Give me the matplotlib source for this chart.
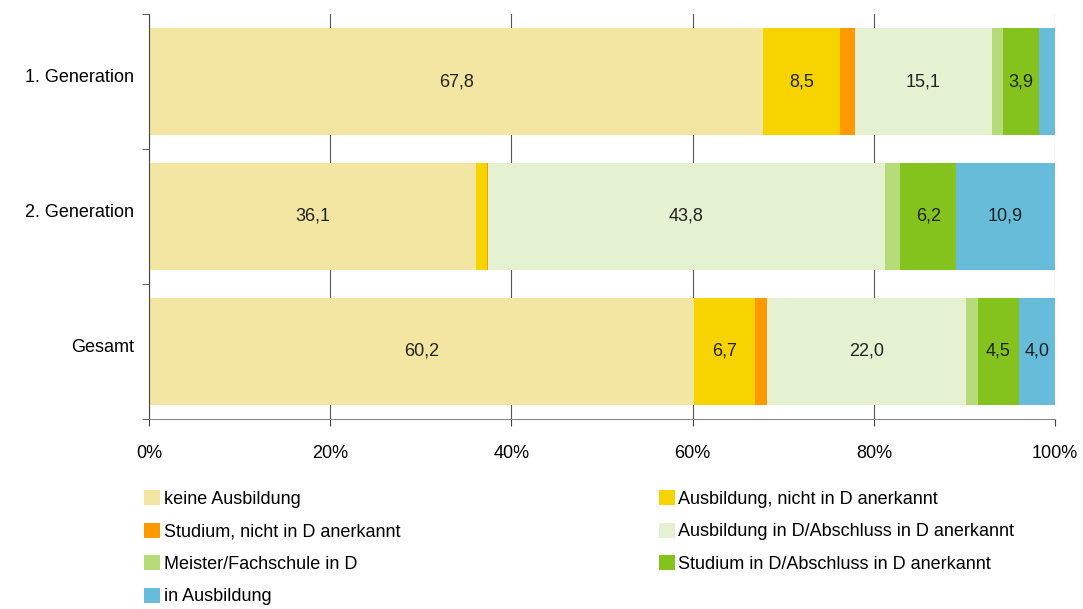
import numpy as np
import matplotlib.pyplot as plt
import matplotlib.transforms as mtransforms
from matplotlib.patches import Patch

plt.rcParams['font.family'] = ['Liberation Sans', 'DejaVu Sans']

groups = ["1. Generation", "2. Generation", "Gesamt"]
categories = ["keine Ausbildung",
              "Ausbildung, nicht in D anerkannt",
              "Studium, nicht in D anerkannt",
              "Ausbildung in D/Abschluss in D anerkannt",
              "Meister/Fachschule in D",
              "Studium in D/Abschluss in D anerkannt",
              "in Ausbildung"]
colors = ["#F3E6A3", "#F7D300", "#FF9900", "#E5F2D2", "#B5DC78", "#84C31D", "#66BCD9"]

# values per category, one entry per group
values = {
    "keine Ausbildung": [67.8, 36.1, 60.2],
    "Ausbildung, nicht in D anerkannt": [8.5, 1.2, 6.7],
    "Studium, nicht in D anerkannt": [1.6, 0.1, 1.3],
    "Ausbildung in D/Abschluss in D anerkannt": [15.1, 43.8, 22.0],
    "Meister/Fachschule in D": [1.3, 1.7, 1.3],
    "Studium in D/Abschluss in D anerkannt": [3.9, 6.2, 4.5],
    "in Ausbildung": [1.8, 10.9, 4.0],
}
min_label = 3.5

fig = plt.figure(figsize=(10.83, 6.09), dpi=100)
ax = fig.add_axes([0.1376, 0.312, 0.8366, 0.665])

y = np.arange(len(groups))
left = np.zeros(len(groups))
for cat, col in zip(categories, colors):
    vals = np.array(values[cat])
    ax.barh(y, vals, left=left, height=0.79, color=col, zorder=2)
    for yi, v, l in zip(y, vals, left):
        if v >= min_label:
            ax.text(l + v / 2, yi, f"{v:.1f}".replace(".", ","), ha="center", va="center",
                    fontsize=13, color="#222222", zorder=3)
    left += vals

ax.set_xlim(0, 100)
ax.set_ylim(2.5, -0.5)
ax.set_xticks(np.arange(0, 101, 20))
ax.set_xticklabels([f"{t}%" for t in range(0, 101, 20)], fontsize=13)
ax.set_yticks(y)
ax.set_yticklabels(groups, fontsize=13)
ax.set_yticks([-0.5, 0.5, 1.5, 2.5], minor=True)
ax.tick_params(axis="y", which="major", length=0, pad=15)
ax.tick_params(axis="y", which="minor", length=5, direction="out", color="#444444")
ax.tick_params(axis="x", length=5, direction="out", color="#444444", pad=14)
# labels sit a little above the bar centres
shift = mtransforms.ScaledTranslation(0.06, 0.06, fig.dpi_scale_trans)
for lab in ax.get_yticklabels():
    lab.set_transform(lab.get_transform() + shift)
ax.xaxis.grid(True, color="#555555", linewidth=0.8, zorder=0)
ax.set_axisbelow(True)
for s in ["top", "right"]:
    ax.spines[s].set_visible(False)
ax.spines["left"].set_color("#444444")
ax.spines["bottom"].set_color("#888888")

# legend order: row-wise in two columns
col1 = [0, 2, 4, 6]
col2 = [1, 3, 5]
order = col1 + col2
handles = [Patch(facecolor=colors[i], edgecolor="none") for i in order]
labels = [categories[i] for i in order]
fig.legend(handles, labels, loc="upper left", bbox_to_anchor=(0.118, 0.222), ncol=2,
           frameon=False, fontsize=13, handlelength=0.9, handleheight=0.9,
           handletextpad=0.2, labelspacing=0.82, columnspacing=14.3)

fig.savefig("out.png", dpi=100)
